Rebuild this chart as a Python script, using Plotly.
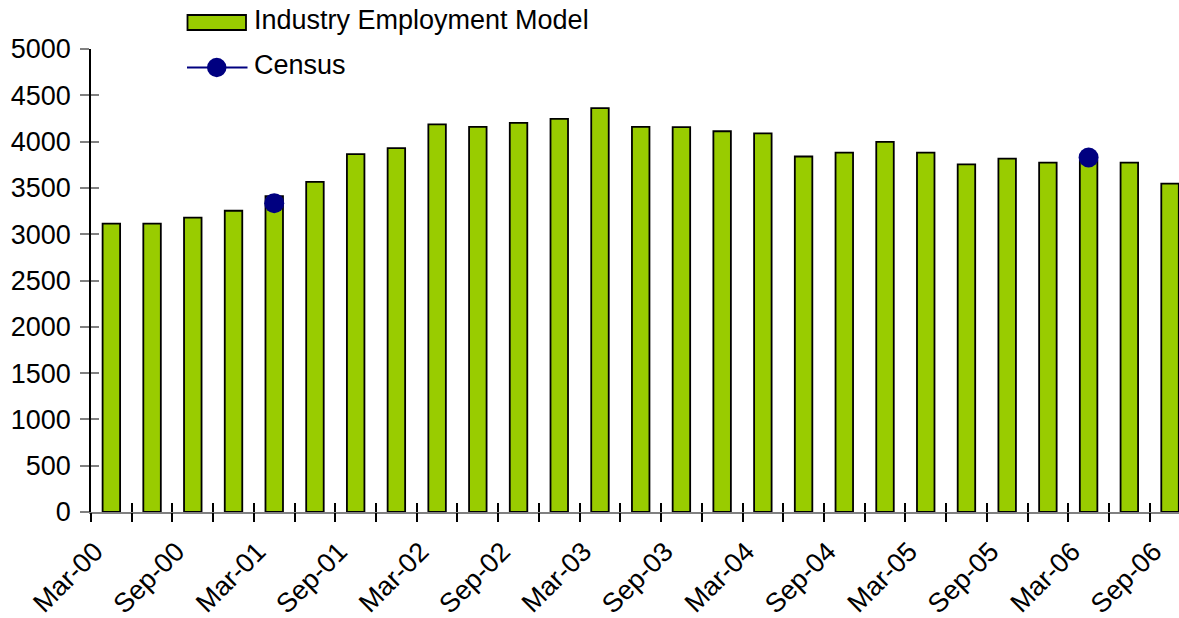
import plotly.graph_objects as go

quarters = ["Mar-00","Jun-00","Sep-00","Dec-00","Mar-01","Jun-01","Sep-01","Dec-01",
            "Mar-02","Jun-02","Sep-02","Dec-02","Mar-03","Jun-03","Sep-03","Dec-03",
            "Mar-04","Jun-04","Sep-04","Dec-04","Mar-05","Jun-05","Sep-05","Dec-05",
            "Mar-06","Jun-06","Sep-06"]
industry = [3115, 3115, 3180, 3253, 3410, 3566, 3864, 3929,
            4185, 4160, 4203, 4246, 4361, 4160, 4156, 4112,
            4088, 3839, 3882, 3998, 3882, 3753, 3817, 3774,
            3795, 3774, 3547]
census = [None]*27
census[4] = 3335
census[24] = 3828
tick_labels = quarters[::2]
series_names = ["Industry Employment Model", "Census"]

FONT = "Liberation Sans, Arial, sans-serif"
GREEN = "#99CC00"
NAVY = "#000080"
idx = list(range(len(quarters)))

fig = go.Figure()
fig.add_trace(go.Bar(x=idx, y=industry, name=series_names[0],
                     marker=dict(color=GREEN, line=dict(color="black", width=1.8)),
                     width=0.43, showlegend=False))
fig.add_trace(go.Scatter(x=idx, y=census, name=series_names[1], mode="lines+markers",
                         connectgaps=False, showlegend=False,
                         line=dict(color=NAVY, width=2),
                         marker=dict(color=NAVY, size=20)))
# invisible helper traces so the overlay tick axes get drawn
fig.add_trace(go.Scatter(x=idx, y=census, xaxis="x2", yaxis="y2", mode="markers",
                         marker=dict(opacity=0), showlegend=False, hoverinfo="skip"))
fig.add_trace(go.Scatter(x=idx, y=census, xaxis="x3", yaxis="y2", mode="markers",
                         marker=dict(opacity=0), showlegend=False, hoverinfo="skip"))

# manual legend (paper coords; plot area spans x 91..1179 px, y 49..512 px)
L, W, T, H = 91.0, 1088.0, 49.0, 463.0
px = lambda v: (v - L) / W
py = lambda v: (T + H - v) / H
fig.add_shape(type="rect", xref="paper", yref="paper",
              x0=px(187.5), x1=px(246), y0=py(30), y1=py(15),
              fillcolor=GREEN, line=dict(color="black", width=1.8))
fig.add_shape(type="line", xref="paper", yref="paper",
              x0=px(187), x1=px(247.5), y0=py(67.5), y1=py(67.5),
              line=dict(color=NAVY, width=2))
fig.add_shape(type="circle", xref="paper", yref="paper",
              x0=px(207), x1=px(226.5), y0=py(77.2), y1=py(57.8),
              fillcolor=NAVY, line=dict(color=NAVY, width=0))
fig.add_annotation(xref="paper", yref="paper", x=px(252), y=py(20),
                   xanchor="left", yanchor="middle", showarrow=False,
                   text=series_names[0], font=dict(size=27, color="black"))
fig.add_annotation(xref="paper", yref="paper", x=px(252), y=py(65),
                   xanchor="left", yanchor="middle", showarrow=False,
                   text=series_names[1], font=dict(size=27, color="black"))

xr = [-0.5, 26.22]
bounds = [i - 0.5 for i in idx] + [26.5]
fig.update_layout(
    width=1179, height=618,
    margin=dict(l=91, r=0, t=49, b=106),
    plot_bgcolor="white", paper_bgcolor="white",
    font=dict(family=FONT, size=27, color="black"),
    showlegend=False,
    xaxis=dict(range=xr, tickmode="array",
               tickvals=[i - 0.4 for i in idx[::2]], ticktext=tick_labels,
               tickangle=-45, ticks="", showgrid=False, zeroline=False,
               showline=True, linecolor="#808080", linewidth=2,
               automargin=False, tickfont=dict(size=27), ticklabelstandoff=11),
    xaxis2=dict(range=xr, overlaying="x", tickmode="array",
                tickvals=bounds, ticks="outside",
                ticklen=9, tickcolor="black", tickwidth=1.5, showticklabels=False,
                showgrid=False, zeroline=False, showline=False),
    xaxis3=dict(range=xr, overlaying="x", tickmode="array",
                tickvals=bounds, ticks="inside",
                ticklen=9, tickcolor="black", tickwidth=1.5, showticklabels=False,
                showgrid=False, zeroline=False, showline=False),
    yaxis=dict(range=[0, 5000], tickmode="linear", dtick=500, tick0=0,
               ticks="outside", ticklen=9, tickcolor="#808080", tickwidth=1.5,
               showgrid=False, zeroline=False, showline=True,
               linecolor="black", linewidth=1.5, automargin=False,
               tickfont=dict(size=27), ticklabelstandoff=4),
    yaxis2=dict(range=[0, 5000], overlaying="y", tickmode="linear", dtick=500,
                ticks="inside", ticklen=8, tickcolor="#808080", tickwidth=1.5,
                showticklabels=False, showgrid=False, zeroline=False, showline=False),
)
fig.write_html("out.html")
